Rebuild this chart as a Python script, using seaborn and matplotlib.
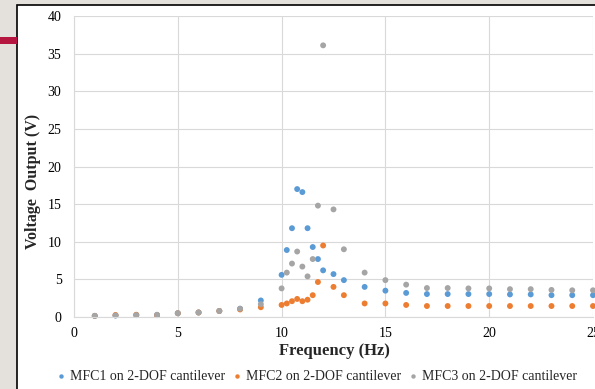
import matplotlib
matplotlib.use("Agg")
import matplotlib.pyplot as plt
import seaborn as sns
import pandas as pd
from matplotlib.patches import Rectangle

freq = [1, 2, 3, 4, 5, 6, 7, 8, 9, 10, 10.25, 10.5, 10.75, 11, 11.25, 11.5, 11.75,
        12, 12.5, 13, 14, 15, 16, 17, 18, 19, 20, 21, 22, 23, 24, 25]
mfc1 = [0.15, 0.2, 0.25, 0.25, 0.5, 0.6, 0.8, 1.1, 2.2, 5.6, 8.9, 11.8, 17.0, 16.6, 11.8,
        9.3, 7.7, 6.2, 5.7, 4.9, 4.0, 3.5, 3.2, 3.05, 3.05, 3.05, 3.05, 3.0, 3.0, 2.9, 2.9, 2.9]
mfc2 = [0.15, 0.27, 0.3, 0.25, 0.5, 0.6, 0.8, 1.0, 1.3, 1.6, 1.8, 2.1, 2.4, 2.1, 2.3,
        2.9, 4.65, 9.5, 4.0, 2.9, 1.8, 1.8, 1.6, 1.46, 1.46, 1.46, 1.46, 1.46, 1.46, 1.46, 1.46, 1.46]
mfc3 = [0.15, 0.2, 0.25, 0.3, 0.5, 0.6, 0.8, 1.1, 1.7, 3.8, 5.9, 7.1, 8.7, 6.7, 5.4,
        7.7, 14.8, 36.1, 14.3, 9.0, 5.9, 4.9, 4.3, 3.85, 3.85, 3.8, 3.8, 3.7, 3.7, 3.6, 3.55, 3.55]
series_names = ["MFC1 on 2-DOF cantilever", "MFC2 on 2-DOF cantilever", "MFC3 on 2-DOF cantilever"]
colors = ["#5B9BD5", "#ED7D31", "#A5A5A5"]
xticks = [0, 5, 10, 15, 20, 25]
yticks = [0, 5, 10, 15, 20, 25, 30, 35, 40]

rows = []
for name, vals in zip(series_names, [mfc1, mfc2, mfc3]):
    for f, v in zip(freq, vals):
        rows.append({"Frequency (Hz)": f, "Voltage": v, "Series": name})
df = pd.DataFrame(rows)

sns.set_style("white")
plt.rcParams["font.family"] = ["Liberation Serif", "DejaVu Serif"]

W, H = 595, 389
fig = plt.figure(figsize=(W / 100, H / 100), dpi=100, facecolor="#E4E1DC")

# white panel with black border + red accent
fig.patches.append(Rectangle((17 / W, -0.05), 1.1, (H - 5) / H + 0.05, transform=fig.transFigure,
                             facecolor="white", edgecolor="black", linewidth=1.2, zorder=-5))
fig.patches.append(Rectangle((0, 1 - 44 / H), 16.5 / W, 7 / H, transform=fig.transFigure,
                             facecolor="#B5163F", edgecolor="none", zorder=-5))

ax = fig.add_axes([74 / W, (H - 317) / H, (593 - 74) / W, (317 - 16) / H])
ax.set_zorder(2)
ax.patch.set_alpha(0)

sns.scatterplot(data=df, x="Frequency (Hz)", y="Voltage", hue="Series", hue_order=series_names,
                palette=colors, s=18, edgecolor="none", ax=ax, legend=True, clip_on=False)

ax.set_xlim(0, 25)
ax.set_ylim(0, 40)
ax.set_xticks(xticks)
ax.set_yticks(yticks)
ax.grid(True, color="#D9D9D9", linewidth=0.8)
ax.set_axisbelow(True)
for s in ["top", "right"]:
    ax.spines[s].set_visible(False)
for s in ["left", "bottom"]:
    ax.spines[s].set_color("#D9D9D9")
    ax.spines[s].set_linewidth(0.8)
ax.tick_params(axis="both", length=0, labelsize=10, pad=7, colors="black")
ax.tick_params(axis="y", pad=9)

ax.set_xlabel("")
ax.set_ylabel("")
fig.text(334 / W, 1 - 351 / H, "Frequency (Hz)", fontsize=12, fontweight="bold",
         ha="center", va="center")
fig.text(33 / W, 1 - 181 / H, "Voltage  Output (V)", rotation=90, fontsize=11.5,
         fontweight="bold", ha="center", va="center")

handles, labels = ax.get_legend_handles_labels()
ax.get_legend().remove()
leg = fig.legend(handles, labels, loc="center", bbox_to_anchor=(317 / W, 1 - 377 / H), ncol=3,
                 frameon=False, fontsize=10, handlelength=0.6, handletextpad=0.3,
                 columnspacing=0.6, markerscale=0.75, borderaxespad=0)
leg.set_zorder(3)

fig.savefig("out.png", dpi=100, facecolor=fig.get_facecolor())
